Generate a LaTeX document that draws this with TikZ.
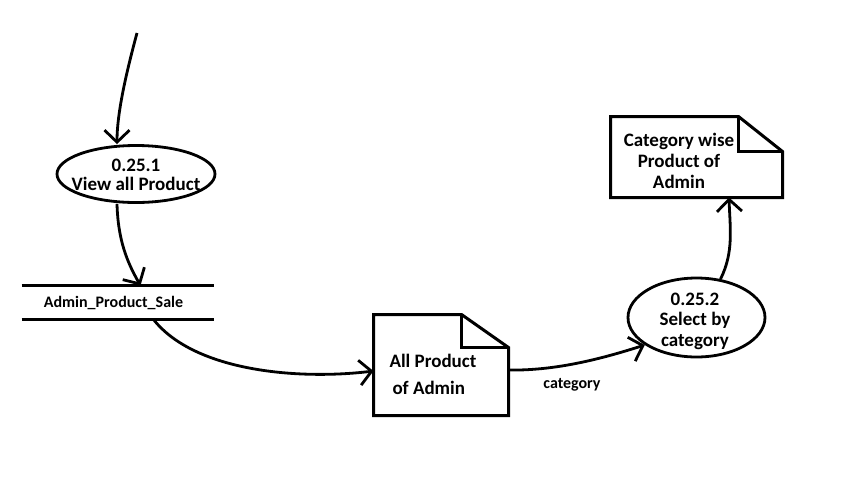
\documentclass[tikz,border=0pt]{standalone}
\usepackage{fontspec}
\setmainfont{Carlito}
\usetikzlibrary{shapes.geometric,arrows.meta}
\begin{document}
\begin{tikzpicture}[x=1pt,y=-1pt,
  line width=3pt,
  flow/.style={draw, line width=2.8pt, -{Straight Barb[length=12pt,width=25pt,line width=2.8pt]}},
  process/.style={draw, ellipse, inner sep=0pt, line width=2.8pt},
  label/.style={font=\bfseries\fontsize{19}{20}\selectfont, align=center, inner sep=0pt},
  holder/.style={inner sep=0pt}
]
\useasboundingbox[fill=white] (0,0) rectangle (859,488);

% process 0.25.1
\node[process, minimum width=158pt, minimum height=57pt] (e1) at (136,174) {};
\node[label, font=\bfseries\fontsize{19}{19.5}\selectfont] (e1t) at (136,175) {0.25.1\\View all Product};

% data store
\node[holder, minimum width=189pt, minimum height=31pt] (ds) at (117.5,302.5) {};
\draw (ds.north west) -- (ds.north east);
\draw (ds.south west) -- (ds.south east);
\node[label, font=\bfseries\fontsize{16}{18}\selectfont] (dst) at (113.5,303) {Admin\_Product\_Sale};

% document: all products
\node[holder, minimum width=132pt, minimum height=98pt] (d1) at (441,365) {};
\draw (d1.north west) -- ([xshift=-47pt]d1.north east) -- ([yshift=-33pt]d1.north east)
      -- (d1.south east) -- (d1.south west) -- cycle;
\draw ([xshift=-47pt]d1.north east) -- ++(0,33) -- ++(47,0);
\node[label, align=left, font=\bfseries\fontsize{19}{27}\selectfont, anchor=west] (d1t) at (388,374) {All Product\\\hspace{3pt}of Admin};

% process 0.25.2
\node[process, minimum width=137pt, minimum height=79pt] (e2) at (696.5,317.5) {};
\node[label, font=\bfseries\fontsize{19}{20.5}\selectfont] (e2t) at (695,321) {0.25.2\\Select by\\category};

% document: category wise products
\node[holder, minimum width=169pt, minimum height=78pt] (d2) at (696.5,157) {};
\draw (d2.north west) -- ([xshift=-44pt]d2.north east) -- ([yshift=-35pt]d2.north east)
      -- (d2.south east) -- (d2.south west) -- cycle;
\draw ([xshift=-44pt]d2.north east) -- ++(0,35) -- ++(44,0);
\node[label, font=\bfseries\fontsize{19}{21}\selectfont] (d2t) at (679,161) {Category wise\\Product of\\Admin};

% flows
\coordinate (src) at (137,33);
\draw[flow] (src) .. controls (127,70) and (117,112) .. ([xshift=-19pt]e1.north);
\draw[flow] ([xshift=-19pt]e1.south) .. controls (118,240) and (127,262) .. ([xshift=119pt]ds.north west);
\draw[flow] ([xshift=132pt]ds.south west) .. controls (195,372) and (300,380) .. ([yshift=-6pt]d1.west);
\draw[flow] ([yshift=-5pt]d1.east) .. controls (560,371) and (610,356) .. (e2.208);
\node[label, font=\bfseries\fontsize{16}{18}\selectfont] (cat) at (572,385) {category};
\draw[flow] (e2.58) .. controls (734,252) and (730,228) .. ([xshift=32.5pt]d2.south);
\end{tikzpicture}
\end{document}
